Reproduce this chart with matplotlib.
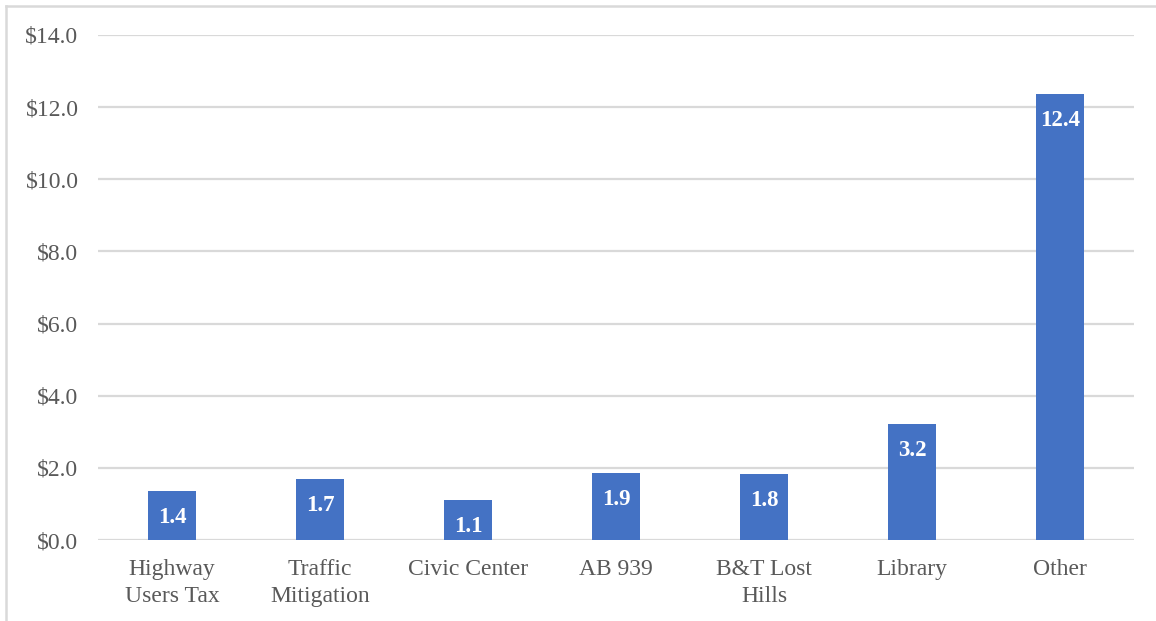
import matplotlib.pyplot as plt
from matplotlib.lines import Line2D

categories = ["Highway\nUsers Tax", "Traffic\nMitigation", "Civic Center", "AB 939",
              "B&T Lost\nHills", "Library", "Other"]
values = [1.36, 1.69, 1.11, 1.86, 1.84, 3.22, 12.36]
yticks = [0, 2, 4, 6, 8, 10, 12, 14]

plt.rcParams['font.family'] = ['Liberation Serif', 'DejaVu Serif']

fig = plt.figure(figsize=(11.56, 6.21), dpi=100)
ax = fig.add_axes([98 / 1156, 1 - 540 / 621, (1134 - 98) / 1156, (540 - 35) / 621])

x = range(len(categories))
bars = ax.bar(x, values, width=0.32, color='#4472C4', zorder=3)
for xi, v in zip(x, values):
    ax.annotate('%.1f' % v, (xi, v), xytext=(0, -19), textcoords='offset points',
                ha='center', va='center', color='white', fontsize=16.5, fontweight='bold',
                zorder=4)

ax.set_xlim(-0.5, len(categories) - 0.5)
ax.set_ylim(0, 14)
ax.set_yticks(yticks)
ax.set_yticklabels(['$%.1f' % t for t in yticks])
ax.set_xticks(list(x))
ax.set_xticklabels(categories, linespacing=1.35)
ax.tick_params(axis='both', length=0, labelsize=17, labelcolor='#595959')
ax.tick_params(axis='x', pad=14)
ax.tick_params(axis='y', pad=14)
ax.grid(axis='y', color='#d9d9d9', linewidth=1.6, zorder=0)
for s in ax.spines.values():
    s.set_visible(False)

# chart border (partly cropped)
fig.add_artist(Line2D([6 / 1156, 6 / 1156], [0, 1 - 6 / 621], color='#d9d9d9', linewidth=1.8))
fig.add_artist(Line2D([6 / 1156, 1], [1 - 6 / 621, 1 - 6 / 621], color='#d9d9d9', linewidth=1.8))

fig.savefig('out.png', dpi=100)
